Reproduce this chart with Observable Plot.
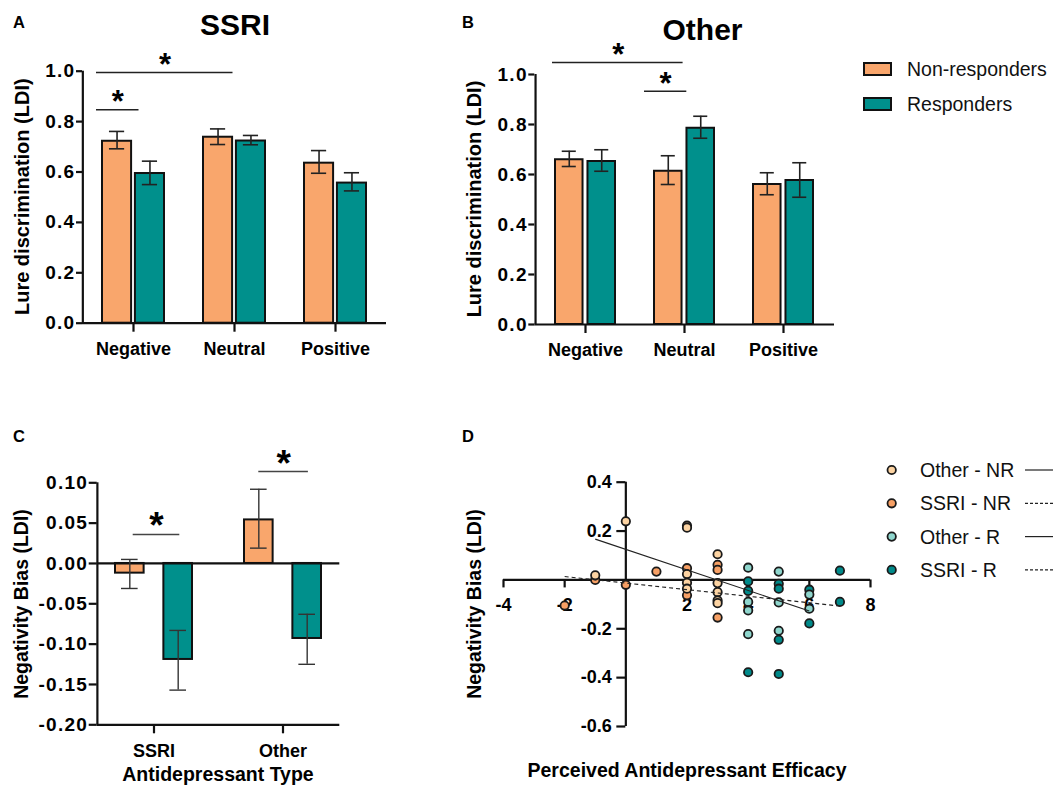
<!DOCTYPE html>
<html>
<head>
<meta charset="utf-8">
<script src="https://cdn.jsdelivr.net/npm/d3@7"></script>
<script src="https://cdn.jsdelivr.net/npm/@observablehq/plot@0.6"></script>
<style>
  html, body { margin: 0; padding: 0; background: #fff; }
  #fig { position: relative; width: 1054px; height: 785px; overflow: hidden; background: #fff; }
</style>
</head>
<body>
<div id="fig"></div>
<script>
// ---------------- DATA ----------------
// Panels A & B: lure discrimination (LDI) by valence
const valences = ["Negative", "Neutral", "Positive"];
// A: SSRI
const ssriNonResp   = [0.722, 0.738, 0.635];
const ssriNonRespLo = [0.692, 0.709, 0.595];
const ssriNonRespHi = [0.761, 0.771, 0.685];
const ssriResp      = [0.594, 0.723, 0.556];
const ssriRespLo    = [0.550, 0.708, 0.525];
const ssriRespHi    = [0.643, 0.745, 0.597];
// B: Other
const otherNonResp   = [0.659, 0.613, 0.560];
const otherNonRespLo = [0.632, 0.560, 0.519];
const otherNonRespHi = [0.693, 0.675, 0.607];
const otherResp      = [0.652, 0.785, 0.576];
const otherRespLo    = [0.613, 0.745, 0.509];
const otherRespHi    = [0.699, 0.833, 0.647];
const ldiTicks = [0, 0.2, 0.4, 0.6, 0.8, 1.0];

// Panel C: negativity bias by antidepressant type
const drugTypes = ["SSRI", "Other"];
const biasNonResp   = [-0.012, 0.054];
const biasNonRespLo = [-0.031, 0.019];
const biasNonRespHi = [0.005, 0.092];
const biasResp      = [-0.119, -0.093];
const biasRespLo    = [-0.157, -0.125];
const biasRespHi    = [-0.083, -0.063];
const biasTicksC = [-0.20, -0.15, -0.10, -0.05, 0.00, 0.05, 0.10];

// Significance brackets
const bracketsA = [
  {from: "Negative", to: "Negative", y: 0.847},
  {from: "Negative", to: "Neutral",  y: 0.995}
];
const bracketsB = [
  {from: "Negative", to: "Neutral", y: 1.048},
  {from: "Neutral",  to: "Neutral", y: 0.933}
];
const bracketsC = [
  {from: "SSRI",  to: "SSRI",  y: 0.036},
  {from: "Other", to: "Other", y: 0.114}
];

// Panel D: perceived efficacy (x) vs negativity bias (y)
const otherNRPoints = [[-1, 0.019], [0, 0.24], [2, 0.222], [2, 0.214], [2, 0.024], [2, -0.012], [2, -0.036],
                       [3, 0.105], [3, -0.013], [3, -0.05], [3, -0.084], [3, -0.095]];
const ssriNRPoints  = [[-2, -0.105], [-1, 0.0], [0, -0.02], [1, 0.034], [2, 0.048], [2, -0.063],
                       [3, 0.062], [3, 0.041], [3, -0.154]];
const otherRPoints  = [[4, 0.05], [4, -0.09], [4, -0.125], [4, -0.222], [5, 0.034], [5, -0.092],
                       [5, -0.208], [6, -0.06], [6, -0.118]];
const ssriRPoints   = [[4, -0.006], [4, -0.045], [4, -0.378], [5, -0.016], [5, -0.036], [5, -0.245],
                       [5, -0.385], [6, -0.04], [6, -0.178], [7, 0.038], [7, -0.09]];
const fitLines = [
  {drug: "Other", x1: -1, y1: 0.167, x2: 6, y2: -0.127},
  {drug: "SSRI",  x1: -2, y1: 0.014, x2: 7, y2: -0.107}
];
const efficacyTicks = [-4, -2, 2, 4, 6, 8];
const biasTicksD = [-0.6, -0.4, -0.2, 0.2, 0.4];

// ---------------- STYLE ----------------
const FONT = '"Liberation Sans", Arial, Helvetica, sans-serif';
const NR_FILL = "#F9A66C", R_FILL = "#00908C";
const COL_OTHER_NR = "#FCD3A2", COL_SSRI_NR = "#F7A065", COL_OTHER_R = "#8FD6CD", COL_SSRI_R = "#008A8A";
const INK = "#111";

const fig = document.getElementById("fig");
function place(el, left, top) {
  el.style.position = "absolute";
  el.style.left = left + "px";
  el.style.top = top + "px";
  el.style.overflow = "visible";
  fig.appendChild(el);
}

function rowsOf(groups, v, lo, hi) {
  return groups.map((g, i) => ({group: g, value: v[i], lo: lo[i], hi: hi[i]}));
}

function barPanel(cfg) {
  const {width, height, mL, mR, mT, mB, groups, nr, r, yDomain, yTicks, fmt, pi, po,
         barW: barWopt, gap, capW, errColor, errWidth, brackets, bracketPads, bracketColor,
         starSize, starDy, zeroLine, xTickSize, xTickPad, yTickSize, yTickPad} = cfg;
  const n = groups.length;
  const step = (width - mL - mR) / (n - pi + 2 * po);
  const bw = step * (1 - pi);
  const barW = barWopt ?? (bw - gap) / 2;
  const inner = bw - barW;
  const off = bw / 2 - barW / 2;
  const marks = [];
  marks.push(Plot.barY(nr, {x: "group", y: "value", fill: NR_FILL, stroke: INK, strokeWidth: 2, insetRight: inner}));
  marks.push(Plot.barY(r, {x: "group", y: "value", fill: R_FILL, stroke: INK, strokeWidth: 2, insetLeft: inner}));
  // baseline / zero line / y-axis line
  marks.push(Plot.ruleY([yDomain[0]], {stroke: INK, strokeWidth: 2.2}));
  if (zeroLine) marks.push(Plot.ruleY([0], {stroke: INK, strokeWidth: 2.2}));
  marks.push(Plot.ruleX([groups[0]], {x: d => d, y1: yDomain[0], y2: yDomain[1], dx: -(po * step + bw / 2), stroke: INK, strokeWidth: 2.2}));
  // error bars
  for (const [rows, sign] of [[nr, -1], [r, 1]]) {
    marks.push(Plot.ruleX(rows, {x: "group", y1: "lo", y2: "hi", dx: sign * off, stroke: errColor, strokeWidth: errWidth}));
    const cl = sign < 0 ? barW / 2 - capW / 2 : bw - barW / 2 - capW / 2;
    const cr = bw - capW - cl;
    for (const k of ["lo", "hi"]) {
      marks.push(Plot.ruleY(rows, {x1: "group", x2: "group", y: k, insetLeft: cl, insetRight: cr, stroke: errColor, strokeWidth: errWidth}));
    }
  }
  // significance brackets
  brackets.forEach((b, i) => {
    const [l, rr] = bracketPads[i];
    const span = groups.indexOf(b.to) - groups.indexOf(b.from);
    marks.push(Plot.ruleY([b], {x1: "from", x2: "to", y: "y", insetLeft: l, insetRight: rr, stroke: bracketColor, strokeWidth: 1.6}));
    marks.push(Plot.text([b], {x: "from", y: "y", text: () => "*", dx: (l - rr + span * step) / 2, dy: starDy,
      lineAnchor: "bottom", fontSize: starSize, fontWeight: "bold", fill: "#000"}));
  });
  marks.push(Plot.axisY({ticks: yTicks, tickFormat: fmt, tickSize: yTickSize, tickPadding: yTickPad, stroke: INK, strokeWidth: 2.2, label: null, fill: "#000"}));
  marks.push(Plot.axisX({tickSize: xTickSize, tickPadding: xTickPad, stroke: INK, strokeWidth: 2.2, label: null, fill: "#000"}));
  const svg = Plot.plot({
    width, height, marginLeft: mL, marginRight: mR, marginTop: mT, marginBottom: mB,
    x: {type: "band", domain: groups, paddingInner: pi, paddingOuter: po},
    y: {domain: yDomain},
    style: {fontFamily: FONT, fontSize: "18px", fontWeight: "bold", color: "#000", background: "transparent", overflow: "visible"},
    marks
  });
  // wider numeric tick labels, as in the original figure
  d3.select(svg).selectAll('g[aria-label="y-axis tick label"] text')
    .style("font-size", "19px").style("letter-spacing", "1.3px");
  return svg;
}

// Panel A
place(barPanel({
  width: 400, height: 370, mL: 82, mR: 14, mT: 70.7, mB: 47.3,
  groups: valences,
  nr: rowsOf(valences, ssriNonResp, ssriNonRespLo, ssriNonRespHi),
  r: rowsOf(valences, ssriResp, ssriRespLo, ssriRespHi),
  yDomain: [0, 1], yTicks: ldiTicks, fmt: d => d.toFixed(1),
  pi: 0.39, po: 0.195, gap: 4, capW: 15, errColor: "#222", errWidth: 1.6,
  brackets: bracketsA, bracketPads: [[-6, 25.5], [-6, 32.5]], bracketColor: "#222",
  starSize: 31, starDy: 2.5, zeroLine: false, xTickSize: 9, xTickPad: 10, yTickSize: 6, yTickPad: 1
}), 0, 0);

// Panel B
place(barPanel({
  width: 420, height: 370, mL: 84.3, mR: 36, mT: 74, mB: 46,
  groups: valences,
  nr: rowsOf(valences, otherNonResp, otherNonRespLo, otherNonRespHi),
  r: rowsOf(valences, otherResp, otherRespLo, otherRespHi),
  yDomain: [0, 1], yTicks: ldiTicks, fmt: d => d.toFixed(1),
  pi: 0.39, po: 0.195, gap: 4, capW: 15, errColor: "#222", errWidth: 1.6,
  brackets: bracketsB, bracketPads: [[-3, 31.4], [-10, 27.7]], bracketColor: "#222",
  starSize: 31, starDy: 2.5, zeroLine: false, xTickSize: 9, xTickPad: 10, yTickSize: 6, yTickPad: 1
}), 450, 0);

// Panel C
place(barPanel({
  width: 360, height: 365, mL: 96.7, mR: 20.7, mT: 62.3, mB: 60.7,
  groups: drugTypes,
  nr: rowsOf(drugTypes, biasNonResp, biasNonRespLo, biasNonRespHi),
  r: rowsOf(drugTypes, biasResp, biasRespLo, biasRespHi),
  yDomain: [-0.2, 0.1], yTicks: biasTicksC, fmt: d => d.toFixed(2),
  pi: 0.402, po: 0.1385, barW: 29, capW: 17, errColor: "#333", errWidth: 1.4,
  brackets: bracketsC, bracketPads: [[17.7, 12.7], [14.3, 13.1]], bracketColor: "#444",
  starSize: 37, starDy: 4, zeroLine: true, xTickSize: 9, xTickPad: 10, yTickSize: 8, yTickPad: 1
}), 0, 420);

// Panel D
const dotOpts = (fill) => ({x: d => d[0], y: d => d[1], r: 4.2, fill, stroke: "#1a1a1a", strokeWidth: 1.8});
const dPlot = Plot.plot({
  width: 400, height: 340, marginLeft: 23, marginRight: 10, marginTop: 51.7, marginBottom: 44,
  x: {domain: [-4, 8], axis: null},
  y: {domain: [-0.6, 0.4], axis: null},
  style: {fontFamily: FONT, fontSize: "18px", fontWeight: "bold", color: "#000", background: "transparent", overflow: "visible"},
  marks: [
    Plot.ruleY([0], {x1: -4, x2: 8, stroke: INK, strokeWidth: 2.2}),
    Plot.ruleX([0], {y1: -0.6, y2: 0.4, stroke: INK, strokeWidth: 2.2}),
    Plot.ruleX(efficacyTicks, {x: d => d, y1: 0, y2: 0, insetBottom: -8, stroke: INK, strokeWidth: 2.2}),
    Plot.ruleY(biasTicksD, {y: d => d, x1: 0, x2: 0, insetLeft: -9, stroke: INK, strokeWidth: 2.2}),
    Plot.text(efficacyTicks, {x: d => d, y: 0, text: d => String(d), dy: 18, lineAnchor: "top", fill: "#000"}),
    Plot.text(biasTicksD, {x: 0, y: d => d, text: d => d.toFixed(1), dx: -14, textAnchor: "end", lineAnchor: "middle", fill: "#000"}),
    Plot.dot(ssriRPoints, dotOpts(COL_SSRI_R)),
    Plot.dot(otherRPoints, dotOpts(COL_OTHER_R)),
    Plot.dot(ssriNRPoints, dotOpts(COL_SSRI_NR)),
    Plot.dot(otherNRPoints, dotOpts(COL_OTHER_NR)),
    Plot.link(fitLines.filter(d => d.drug === "Other"), {x1: "x1", y1: "y1", x2: "x2", y2: "y2", stroke: "#222", strokeWidth: 1.1}),
    Plot.link(fitLines.filter(d => d.drug === "SSRI"), {x1: "x1", y1: "y1", x2: "x2", y2: "y2", stroke: "#222", strokeWidth: 1.1, strokeDasharray: "4,3"})
  ]
});
place(dPlot, 480, 430);

// ---------------- TEXT OVERLAY (titles, labels, legends) ----------------
const ov = d3.create("svg").attr("width", 1054).attr("height", 785)
  .style("position", "absolute").style("left", "0px").style("top", "0px")
  .style("font-family", FONT).style("pointer-events", "none");
function txt(x, y, s, {size = 18, weight = "bold", anchor = "start", rotate = 0, fill = "#000"} = {}) {
  ov.append("text")
    .attr("transform", `translate(${x},${y})` + (rotate ? ` rotate(${rotate})` : ""))
    .attr("text-anchor", anchor).attr("font-size", size).attr("font-weight", weight)
    .attr("fill", fill).text(s);
}
// panel letters
txt(13, 28, "A", {size: 16.5});
txt(462, 28, "B", {size: 16.5});
txt(13, 442, "C", {size: 16.5});
txt(462, 442, "D", {size: 16.5});
// titles
txt(235, 35, "SSRI", {size: 30, anchor: "middle"});
txt(702.5, 40, "Other", {size: 30, anchor: "middle"});
// axis titles
txt(29, 196.7, "Lure discrimination (LDI)", {size: 20, anchor: "middle", rotate: -90});
txt(481, 199, "Lure discrimination (LDI)", {size: 20, anchor: "middle", rotate: -90});
txt(27.5, 604, "Negativity Bias (LDI)", {size: 19.5, anchor: "middle", rotate: -90});
txt(481, 604, "Negativity Bias (LDI)", {size: 19.5, anchor: "middle", rotate: -90});
txt(218, 781, "Antidepressant Type", {size: 19.5, anchor: "middle"});
txt(687, 777, "Perceived Antidepressant Efficacy", {size: 19.5, anchor: "middle"});

// legend A/B
const barLegend = [["Non-responders", NR_FILL], ["Responders", R_FILL]];
barLegend.forEach(([label, fill], i) => {
  const y = 62 + i * 35;
  ov.append("rect").attr("x", 864).attr("y", y + 1).attr("width", 27).attr("height", 12)
    .attr("fill", fill).attr("stroke", INK).attr("stroke-width", 2);
  txt(907, y + 14, label, {size: 19.5, weight: "normal", fill: "#111"});
});
// legend D
const dotLegend = [["Other - NR", COL_OTHER_NR, null], ["SSRI - NR", COL_SSRI_NR, "3,2"],
                   ["Other - R", COL_OTHER_R, null], ["SSRI - R", COL_SSRI_R, "3,2"]];
dotLegend.forEach(([label, fill, dash], i) => {
  const y = 470 + i * 33.3;
  ov.append("circle").attr("cx", 891.7).attr("cy", y).attr("r", 4.2)
    .attr("fill", fill).attr("stroke", "#1a1a1a").attr("stroke-width", 1.8);
  txt(920, y + 7, label, {size: 19.5, weight: "normal", fill: "#111"});
  const ln = ov.append("line").attr("x1", 1025).attr("x2", 1053).attr("y1", y).attr("y2", y)
    .attr("stroke", "#222").attr("stroke-width", 1.2);
  if (dash) ln.attr("stroke-dasharray", dash);
});
fig.appendChild(ov.node());
</script>
</body>
</html>
